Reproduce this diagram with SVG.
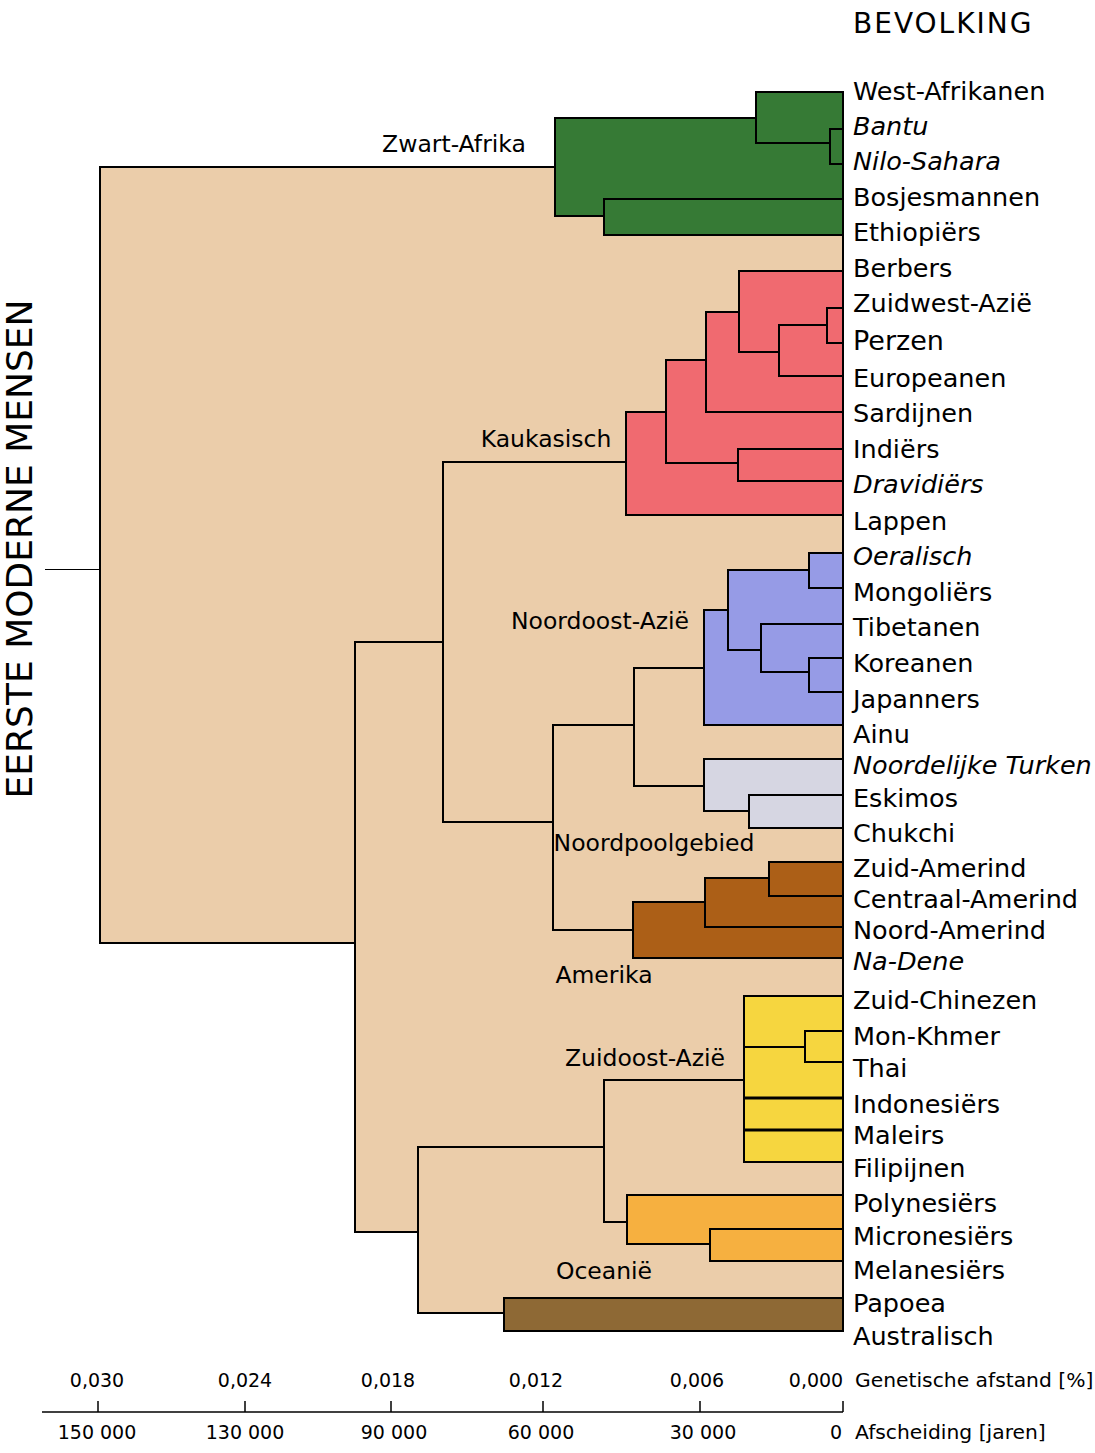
<svg xmlns="http://www.w3.org/2000/svg" width="1095" height="1453" viewBox="0 0 1095 1453">
<style>
text { font-family: "DejaVu Sans", Verdana, sans-serif; fill: #000; }
.lf { font-size: 25.5px; }
.it { font-style: italic; }
.grp { font-size: 23.5px; text-anchor: middle; }
.ax { font-size: 19px; text-anchor: middle; }
.axt { font-size: 20.3px; }
.cl rect { stroke: #000; stroke-width: 2; }
.tan { fill: #EBCDAA; }
.grn { fill: #367A35; }
.red { fill: #F06A70; }
.blu { fill: #969BE6; }
.gry { fill: #D6D6E2; }
.amr { fill: #AC5F17; }
.yel { fill: #F6D63F; }
.org { fill: #F6B040; }
.dbr { fill: #8E6935; }
.ln { stroke: #000; fill: none; }
</style>
<rect x="0" y="0" width="1095" height="1453" fill="#fff"/>

<g id="connectors" class="cl">
  <line class="ln" x1="45" y1="569.5" x2="100" y2="569.5" stroke-width="1"/>
  <rect class="tan" x="100" y="167" width="743" height="776"/>
  <rect class="tan" x="355" y="642" width="488" height="590"/>
  <rect class="tan" x="443" y="462" width="400" height="360"/>
  <rect class="tan" x="553" y="725" width="290" height="205"/>
  <rect class="tan" x="634" y="668" width="209" height="118"/>
  <rect class="tan" x="418" y="1147" width="425" height="166"/>
  <rect class="tan" x="604" y="1080" width="239" height="142"/>
</g>

<g id="zwart-afrika" class="cl">
  <rect class="grn" x="555" y="118" width="288" height="98"/>
  <rect class="grn" x="756" y="92" width="87" height="51"/>
  <rect class="grn" x="830" y="129" width="13" height="35"/>
  <rect class="grn" x="604" y="199" width="239" height="36"/>
  <text class="grp" x="454" y="152">Zwart-Afrika</text>
</g>

<g id="kaukasisch" class="cl">
  <rect class="red" x="626" y="412" width="217" height="103"/>
  <rect class="red" x="666" y="360" width="177" height="103"/>
  <rect class="red" x="706" y="312" width="137" height="100"/>
  <rect class="red" x="739" y="271" width="104" height="81"/>
  <rect class="red" x="779" y="325" width="64" height="51"/>
  <rect class="red" x="827" y="308" width="16" height="35"/>
  <rect class="red" x="738" y="449" width="105" height="32"/>
  <text class="grp" x="546" y="447">Kaukasisch</text>
</g>

<g id="noordoost-azie" class="cl">
  <rect class="blu" x="704" y="610" width="139" height="115"/>
  <rect class="blu" x="728" y="570" width="115" height="80"/>
  <rect class="blu" x="809" y="553" width="34" height="35"/>
  <rect class="blu" x="761" y="624" width="82" height="48"/>
  <rect class="blu" x="809" y="658" width="34" height="34"/>
  <text class="grp" x="600" y="629">Noordoost-Azië</text>
</g>

<g id="noordpoolgebied" class="cl">
  <rect class="gry" x="704" y="759" width="139" height="52"/>
  <rect class="gry" x="749" y="795" width="94" height="33"/>
  <text class="grp" x="654" y="851">Noordpoolgebied</text>
</g>

<g id="amerika" class="cl">
  <rect class="amr" x="633" y="902" width="210" height="56"/>
  <rect class="amr" x="705" y="878" width="138" height="49"/>
  <rect class="amr" x="769" y="862" width="74" height="34"/>
  <text class="grp" x="604" y="983">Amerika</text>
</g>

<g id="zuidoost-azie" class="cl">
  <rect class="yel" x="744" y="996" width="99" height="166"/>
  <rect class="yel" x="744" y="996" width="99" height="51"/>
  <rect class="yel" x="744" y="1098" width="99" height="32"/>
  <line class="ln" x1="744" y1="1098" x2="843" y2="1098" stroke-width="3"/>
  <line class="ln" x1="744" y1="1130" x2="843" y2="1130" stroke-width="3"/>
  <rect class="yel" x="805" y="1031" width="38" height="31"/>
  <text class="grp" x="645" y="1066">Zuidoost-Azië</text>
</g>

<g id="oceanie" class="cl">
  <rect class="org" x="627" y="1195" width="216" height="49"/>
  <rect class="org" x="710" y="1229" width="133" height="32"/>
  <rect class="dbr" x="504" y="1298" width="339" height="33"/>
  <text class="grp" x="604" y="1279">Oceanië</text>
</g>

<g id="titel">
  <text x="32" y="549" font-size="36" text-anchor="middle" transform="rotate(-90 32 549)">EERSTE MODERNE MENSEN</text>
  <text x="853" y="33" font-size="28" letter-spacing="2">BEVOLKING</text>
</g>

<g id="bevolking" class="lf">
  <text x="853" y="100">West-Afrikanen</text>
  <text x="853" y="135" class="it">Bantu</text>
  <text x="853" y="170" class="it">Nilo-Sahara</text>
  <text x="853" y="206">Bosjesmannen</text>
  <text x="853" y="241">Ethiopiërs</text>
  <text x="853" y="277">Berbers</text>
  <text x="853" y="312">Zuidwest-Azië</text>
  <text x="853" y="350" font-size="27">Perzen</text>
  <text x="853" y="387">Europeanen</text>
  <text x="853" y="422">Sardijnen</text>
  <text x="853" y="458">Indiërs</text>
  <text x="853" y="493" class="it">Dravidiërs</text>
  <text x="853" y="530">Lappen</text>
  <text x="853" y="565" class="it">Oeralisch</text>
  <text x="853" y="601">Mongoliërs</text>
  <text x="853" y="636">Tibetanen</text>
  <text x="853" y="672">Koreanen</text>
  <text x="853" y="708">Japanners</text>
  <text x="853" y="743">Ainu</text>
  <text x="853" y="774" class="it">Noordelijke Turken</text>
  <text x="853" y="807">Eskimos</text>
  <text x="853" y="842">Chukchi</text>
  <text x="853" y="877">Zuid-Amerind</text>
  <text x="853" y="908">Centraal-Amerind</text>
  <text x="853" y="939">Noord-Amerind</text>
  <text x="853" y="970" class="it">Na-Dene</text>
  <text x="853" y="1009">Zuid-Chinezen</text>
  <text x="853" y="1045">Mon-Khmer</text>
  <text x="853" y="1077">Thai</text>
  <text x="853" y="1113">Indonesiërs</text>
  <text x="853" y="1144">Maleirs</text>
  <text x="853" y="1177">Filipijnen</text>
  <text x="853" y="1212">Polynesiërs</text>
  <text x="853" y="1245">Micronesiërs</text>
  <text x="853" y="1279">Melanesiërs</text>
  <text x="853" y="1312">Papoea</text>
  <text x="853" y="1345">Australisch</text>
</g>

<g id="as">
  <line class="ln" x1="42" y1="1412" x2="843" y2="1412" stroke-width="1.5"/>
  <line class="ln" x1="98" y1="1401" x2="98" y2="1412" stroke-width="1.5"/>
  <line class="ln" x1="245" y1="1401" x2="245" y2="1412" stroke-width="1.5"/>
  <line class="ln" x1="391" y1="1401" x2="391" y2="1412" stroke-width="1.5"/>
  <line class="ln" x1="543" y1="1401" x2="543" y2="1412" stroke-width="1.5"/>
  <line class="ln" x1="700" y1="1401" x2="700" y2="1412" stroke-width="1.5"/>
  <line class="ln" x1="843" y1="1401" x2="843" y2="1412" stroke-width="1.5"/>
  <text class="ax" x="97" y="1387">0,030</text>
  <text class="ax" x="245" y="1387">0,024</text>
  <text class="ax" x="388" y="1387">0,018</text>
  <text class="ax" x="536" y="1387">0,012</text>
  <text class="ax" x="697" y="1387">0,006</text>
  <text class="ax" x="816" y="1387">0,000</text>
  <text class="axt" x="855" y="1387">Genetische afstand [%]</text>
  <text class="ax" x="97" y="1439">150 000</text>
  <text class="ax" x="245" y="1439">130 000</text>
  <text class="ax" x="394" y="1439">90 000</text>
  <text class="ax" x="541" y="1439">60 000</text>
  <text class="ax" x="703" y="1439">30 000</text>
  <text class="ax" x="836" y="1439">0</text>
  <text class="axt" x="855" y="1439">Afscheiding [jaren]</text>
</g>
</svg>
